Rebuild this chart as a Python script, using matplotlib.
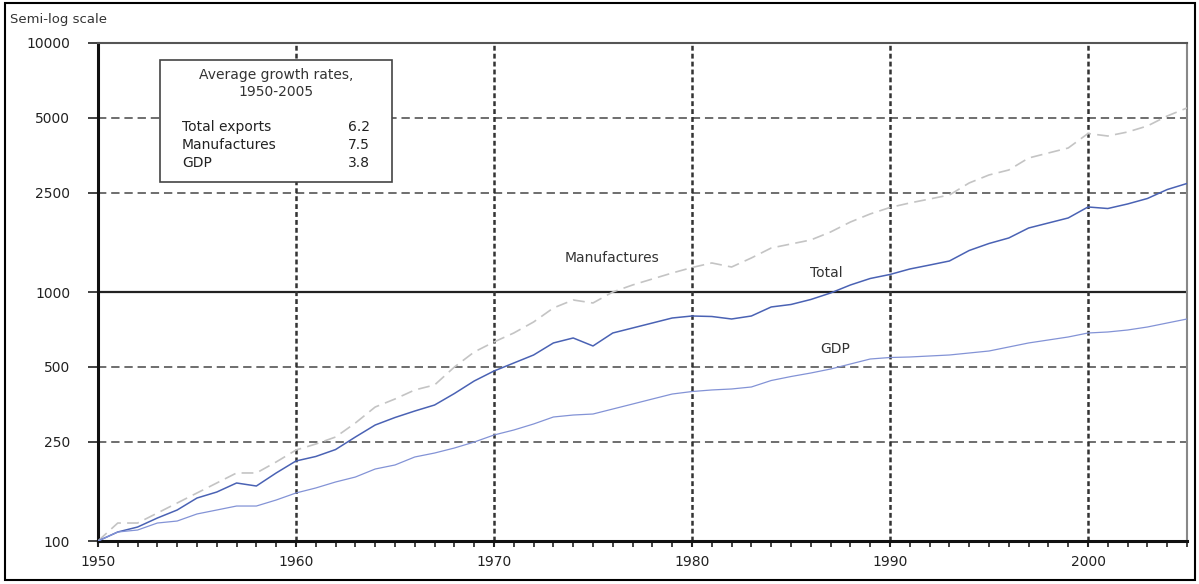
import numpy as np
import matplotlib
matplotlib.use("Agg")
import matplotlib.pyplot as plt
from matplotlib.ticker import FixedLocator, MultipleLocator, NullLocator, FixedFormatter
from matplotlib.patches import Rectangle

plt.rcParams['font.family'] = ['DejaVu Sans']
plt.rcParams['lines.scale_dashes'] = False

# data (index 1950 = 100)
years = list(range(1950, 2006))

total = [100, 108.7, 113.8, 123.7, 133.2, 148.8, 157.3, 171.0, 166.3, 187.6,
         209.6, 218.5, 233.0, 261.6, 292.3, 313.3, 332.7, 351.7, 391.1, 439.1,
         481.6, 518.6, 558.5, 624.2, 653.7, 607.1, 684.5, 716.9, 750.8, 786.3,
         801.0, 797.3, 779.1, 801.0, 870.7, 891.0, 933.0, 990.8, 1067, 1133,
         1176, 1237, 1283, 1332, 1468, 1566, 1648, 1807, 1893, 1983,
         2195, 2164, 2257, 2374, 2579, 2728]

manufactures = [100, 118.1, 118.1, 129.5, 142.1, 155.9, 171.0, 187.6, 187.6, 207.7,
                231.9, 245.2, 261.6, 297.8, 345.2, 371.8, 404.2, 423.3, 499.6, 574.1,
                630.0, 684.5, 757.8, 862.7, 928.8, 903.4, 1000, 1067, 1128, 1192,
                1254, 1308, 1260, 1370, 1502, 1559, 1618, 1742, 1910, 2058,
                2185, 2278, 2363, 2452, 2741, 2951, 3090, 3452, 3616, 3787,
                4330, 4231, 4391, 4642, 5091, 5483]

gdp = [100, 108.7, 110.7, 118.1, 120.3, 128.4, 133.2, 138.2, 138.2, 146.1,
       155.9, 163.3, 172.6, 180.7, 194.6, 202.0, 217.5, 225.6, 236.3, 249.7,
       266.5, 279.1, 295.1, 314.8, 320.6, 323.6, 338.9, 354.9, 371.8, 389.3,
       398.4, 404.2, 407.9, 415.5, 441.1, 457.7, 472.8, 490.6, 513.9, 538.2,
       545.7, 548.3, 553.4, 558.5, 568.9, 579.5, 601.4, 624.2, 641.7, 659.7,
       684.5, 690.9, 703.7, 723.5, 750.8, 779.1]

y_ticks = [100, 250, 500, 1000, 2500, 5000, 10000]
y_labels = ['100', '250', '500', '1000', '2500', '5000', '10000']
dashed_levels = [250, 500, 2500, 5000]
decades = [1960, 1970, 1980, 1990, 2000]

box_rows = ['Total exports', 'Manufactures', 'GDP']
box_vals = ['6.2', '7.5', '3.8']

fig = plt.figure(figsize=(11.99, 5.84), dpi=100)
ax = fig.add_axes([0.0817, 0.0736, 0.9083, 0.8528])

ax.set_yscale('log')
ax.set_xlim(1950, 2005)
ax.set_ylim(100, 10000)

# grid
for lv in dashed_levels:
    ax.axhline(lv, color='#555555', lw=1.2, dashes=(6, 3.5), zorder=1)
ax.axhline(1000, color='#222222', lw=1.6, zorder=1)
for d in decades:
    ax.axvline(d, color='#333333', lw=1.8, dashes=(3.5, 2.2), zorder=1)

# series
ax.plot(years, manufactures, color='#c4c4c4', lw=1.2, dashes=(8.5, 4.5), zorder=3)
ax.plot(years, total, color='#4a62b4', lw=1.1, zorder=4)
ax.plot(years, gdp, color='#8393d6', lw=0.9, zorder=4)

# axes styling
ax.spines['left'].set_linewidth(2.2)
ax.spines['left'].set_color('#111111')
ax.spines['bottom'].set_linewidth(2.2)
ax.spines['bottom'].set_color('#111111')
ax.spines['top'].set_linewidth(1.5)
ax.spines['top'].set_color('#555555')
ax.spines['right'].set_linewidth(1.5)
ax.spines['right'].set_color('#888888')

ax.yaxis.set_major_locator(FixedLocator(y_ticks))
ax.yaxis.set_major_formatter(FixedFormatter(y_labels))
ax.yaxis.set_minor_locator(NullLocator())
ax.xaxis.set_major_locator(MultipleLocator(10))
ax.xaxis.set_minor_locator(MultipleLocator(1))

ax.tick_params(axis='y', which='major', direction='out', length=7, width=1.2,
               pad=13, labelsize=10, colors='#222222')
ax.tick_params(axis='x', which='major', direction='out', length=4, width=1.5,
               pad=6, labelsize=10, colors='#222222')
ax.tick_params(axis='x', which='minor', direction='out', length=4, width=1.2,
               colors='#222222')

# line labels
fig.text(0.5104, 0.5582, 'Manufactures', ha='center', va='center', fontsize=10, color='#333333')
fig.text(0.6889, 0.5325, 'Total', ha='center', va='center', fontsize=10, color='#333333')
fig.text(0.6964, 0.4024, 'GDP', ha='center', va='center', fontsize=10, color='#333333')

# growth-rate box
fig.patches.append(Rectangle((0.1334, 0.6884), 0.1935, 0.2089, transform=fig.transFigure,
                             facecolor='white', edgecolor='#444444', lw=1.2, zorder=1.5))
fig.text(0.2302, 0.8716, 'Average growth rates,', ha='center', va='center', fontsize=10,
         color='#333333', zorder=3)
fig.text(0.2302, 0.8425, '1950-2005', ha='center', va='center', fontsize=10,
         color='#333333', zorder=3)
row_y = [0.7825, 0.7517, 0.7209]
for lab, val, yy in zip(box_rows, box_vals, row_y):
    fig.text(0.1518, yy, lab, ha='left', va='center', fontsize=10, color='#222222', zorder=3)
    fig.text(0.3086, yy, val, ha='right', va='center', fontsize=10, color='#222222', zorder=3)

fig.text(0.0083, 0.9658, 'Semi-log scale', ha='left', va='center', fontsize=9.5, color='#333333')

# outer frame
fig.patches.append(Rectangle((0.0042, 0.0068), 0.9925, 0.988, transform=fig.transFigure,
                             facecolor='none', edgecolor='black', lw=1.5))

fig.savefig('out.png', dpi=100)
